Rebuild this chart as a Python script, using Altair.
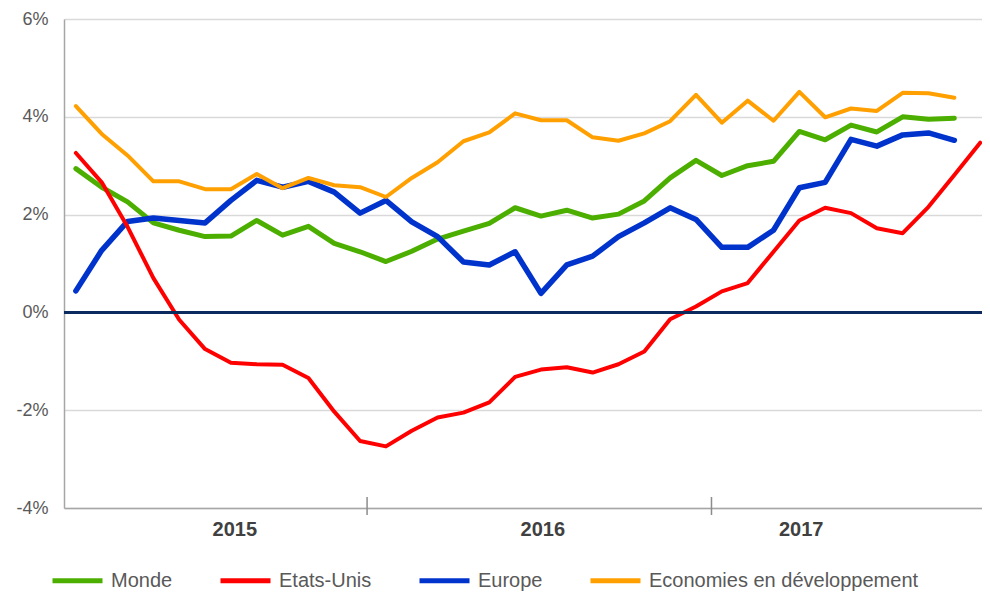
import altair as alt
import pandas as pd

# ---- data (monthly, index 0 = first month) ----
series_names = ["Monde", "Etats-Unis", "Europe", "Economies en développement"]
monde = [2.94, 2.56, 2.26, 1.83, 1.68, 1.55, 1.56, 1.88, 1.58, 1.76, 1.41, 1.24,
         1.04, 1.25, 1.50, 1.66, 1.82, 2.14, 1.97, 2.09, 1.93, 2.01, 2.28, 2.75,
         3.11, 2.80, 3.00, 3.09, 3.70, 3.53, 3.83, 3.69, 4.00, 3.95, 3.97]
etats_unis = [3.26, 2.66, 1.75, 0.70, -0.15, -0.75, -1.03, -1.06, -1.07, -1.34,
              -2.03, -2.63, -2.74, -2.42, -2.15, -2.05, -1.84, -1.32, -1.17, -1.12,
              -1.23, -1.06, -0.80, -0.14, 0.12, 0.43, 0.60, 1.24, 1.88, 2.14,
              2.03, 1.72, 1.62, 2.16, 2.81, 3.47]
europe = [0.44, 1.27, 1.86, 1.93, 1.88, 1.83, 2.29, 2.70, 2.56, 2.68, 2.46, 2.03,
          2.29, 1.85, 1.55, 1.03, 0.97, 1.24, 0.39, 0.97, 1.15, 1.55, 1.83, 2.14,
          1.90, 1.33, 1.33, 1.68, 2.55, 2.66, 3.54, 3.40, 3.63, 3.67, 3.52]
emergents = [4.22, 3.65, 3.21, 2.68, 2.68, 2.52, 2.52, 2.83, 2.54, 2.75, 2.60, 2.56,
             2.36, 2.75, 3.07, 3.50, 3.68, 4.07, 3.93, 3.93, 3.58, 3.51, 3.66, 3.91,
             4.45, 3.88, 4.33, 3.92, 4.51, 3.99, 4.17, 4.12, 4.49, 4.48, 4.39]

y_ticks = [-4, -2, 0, 2, 4, 6]
year_labels = ["2015", "2016", "2017"]
year_pos = [6.15, 18.07, 28.07]
year_sep = [11.27, 24.6]

colors = ["#4CAF00", "#FF0000", "#0033CC", "#FFA000"]
widths = {"Monde": 5, "Etats-Unis": 4, "Europe": 5.5, "Economies en développement": 4}
FONT = "Liberation Sans"

rows = []
for name, vals in zip(series_names, [monde, etats_unis, europe, emergents]):
    for i, v in enumerate(vals):
        rows.append({"serie": name, "mois": i, "val": v})
df = pd.DataFrame(rows)

x_scale = alt.Scale(domain=[-0.46, 35.07], nice=False, zero=False)
y_scale = alt.Scale(domain=[-4, 6], nice=False, zero=False)
color_scale = alt.Scale(domain=series_names, range=colors)

x_axis = alt.Axis(labels=False, ticks=False, grid=False, domain=True,
                  domainColor="#A6A6A6", domainWidth=1.5, title=None)
y_axis = alt.Axis(values=y_ticks, labelExpr="datum.value + '%'", grid=True,
                  gridColor="#D9D9D9", gridWidth=1.5, ticks=False, domain=True,
                  domainColor="#A6A6A6", domainWidth=1.5, labelFontSize=18,
                  labelFont=FONT, labelColor="#595959", labelPadding=16, title=None)

legend = alt.Legend(title=None, orient="none", legendX=-14, legendY=534,
                    direction="horizontal", symbolType="stroke", symbolSize=2500,
                    symbolStrokeWidth=5, labelFontSize=20, labelFont=FONT,
                    labelColor="#595959", columnPadding=37, labelOffset=6,
                    labelLimit=500)

X = lambda f: alt.X(f, scale=x_scale, axis=x_axis)
Y = lambda f: alt.Y(f, scale=y_scale, axis=y_axis)

base = alt.Chart(df)
layers = []
for name in ["Monde", "Europe", "Etats-Unis", "Economies en développement"]:
    layers.append(
        base.transform_filter(alt.datum.serie == name)
        .mark_line(strokeWidth=widths[name], strokeJoin="round", strokeCap="round")
        .encode(
            x=X("mois:Q"),
            y=Y("val:Q"),
            color=alt.Color("serie:N", scale=color_scale, legend=legend,
                            sort=series_names),
        )
    )

zero = alt.Chart(pd.DataFrame({"v": [0]})).mark_rule(
    color="#0B2A5E", strokeWidth=3).encode(y=Y("v:Q"))

sep_df = pd.DataFrame({"x": year_sep, "y1": [-3.775] * len(year_sep),
                       "y2": [-4.143] * len(year_sep)})
seps = alt.Chart(sep_df).mark_rule(color="#8C8C8C", strokeWidth=1.5).encode(
    x=X("x:Q"), y=Y("y1:Q"), y2="y2:Q")

yr_df = pd.DataFrame({"x": year_pos, "y": [-4.46] * len(year_pos), "t": year_labels})
years = alt.Chart(yr_df).mark_text(
    fontSize=20, font=FONT, color="#404040", fontWeight="bold", baseline="middle"
).encode(x=X("x:Q"), y=Y("y:Q"), text="t:N")

chart = alt.layer(*layers, zero, seps, years).properties(
    width=918, height=489,
    autosize=alt.AutoSizeParams(type="none"),
    padding={"left": 56, "top": 11, "right": 0, "bottom": 85},
).configure_view(stroke=None)

chart.save("out.html", embed_options={"renderer": "svg", "actions": False})
